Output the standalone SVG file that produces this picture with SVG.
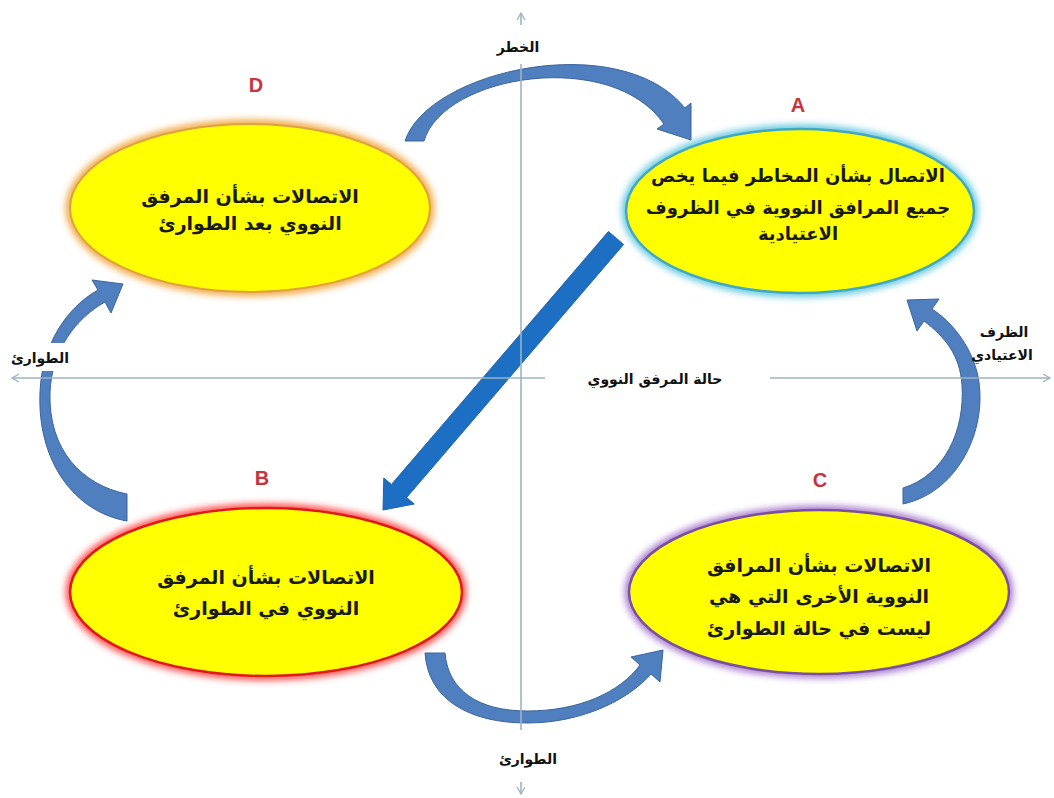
<svg xmlns="http://www.w3.org/2000/svg" width="1054" height="798" viewBox="0 0 1054 798">
  <defs>
    <filter id="soft" x="-15%" y="-25%" width="130%" height="150%">
      <feGaussianBlur stdDeviation="3.5"/>
    </filter>
    <marker id="chev" markerUnits="userSpaceOnUse" markerWidth="10" markerHeight="10" refX="7" refY="4" orient="auto">
      <path d="M0,0 L7,4 L0,8" fill="none" stroke="#9db3c2" stroke-width="1.3"/>
    </marker>
  </defs>
  <style>
    .axis{stroke:#9db3c2;stroke-width:1.6;fill:none}
    .curve{fill:#4f7fbe;stroke:#3a659c;stroke-width:1}
    .straight{fill:#1c6fc3;stroke:#1a62ad;stroke-width:1}
    .body{fill:#ffff00}
    .txt{font-family:"DejaVu Sans",sans-serif;font-size:19px;font-weight:bold;fill:#1a1a1a;text-anchor:middle}
    .lbl{font-family:"DejaVu Sans",sans-serif;font-size:14px;font-weight:bold;fill:#111;text-anchor:middle}
    .letter{font-family:"Liberation Sans",sans-serif;font-size:20px;font-weight:bold;fill:#c8343c;text-anchor:middle}
  </style>

  <rect width="1054" height="798" fill="#ffffff"/>

  <!-- nodes -->
  <g id="node-d">
    <ellipse cx="250" cy="208" rx="180" ry="84" fill="none" stroke="#f0a030" stroke-width="8" filter="url(#soft)"/>
    <ellipse class="body" cx="250" cy="208" rx="180" ry="84" stroke="#e0a040" stroke-width="2"/>
    <text class="txt" x="250" y="203">الاتصالات بشأن المرفق</text>
    <text class="txt" x="250" y="230">النووي بعد الطوارئ</text>
  </g>
  <g id="node-a">
    <ellipse cx="800" cy="211" rx="174" ry="82" fill="none" stroke="#56c3dc" stroke-width="8" filter="url(#soft)"/>
    <ellipse class="body" cx="800" cy="211" rx="174" ry="82" stroke="#3fa9c4" stroke-width="2.5"/>
    <text class="txt" x="798" y="182" style="font-size:18px">الاتصال بشأن المخاطر فيما يخص</text>
    <text class="txt" x="798" y="214" style="font-size:18px">جميع المرافق النووية في الظروف</text>
    <text class="txt" x="798" y="240" style="font-size:18px">الاعتيادية</text>
  </g>
  <g id="node-b">
    <ellipse cx="266" cy="592" rx="196" ry="84" fill="none" stroke="#ff3a3a" stroke-width="8" filter="url(#soft)"/>
    <ellipse class="body" cx="266" cy="592" rx="196" ry="84" stroke="#e01818" stroke-width="2.5"/>
    <text class="txt" x="266" y="584">الاتصالات بشأن المرفق</text>
    <text class="txt" x="266" y="615">النووي في الطوارئ</text>
  </g>
  <g id="node-c">
    <ellipse cx="819" cy="592" rx="190" ry="82" fill="none" stroke="#a070c8" stroke-width="8" filter="url(#soft)"/>
    <ellipse class="body" cx="819" cy="592" rx="190" ry="82" stroke="#7a4fa0" stroke-width="2.5"/>
    <text class="txt" x="819" y="572">الاتصالات بشأن المرافق</text>
    <text class="txt" x="819" y="603">النووية الأخرى التي هي</text>
    <text class="txt" x="819" y="635">ليست في حالة الطوارئ</text>
  </g>

  <!-- quadrant letters -->
  <g id="letters">
    <text class="letter" x="256" y="92">D</text>
    <text class="letter" x="798" y="112">A</text>
    <text class="letter" x="262" y="485">B</text>
    <text class="letter" x="820" y="487">C</text>
  </g>

  <!-- connectors -->
  <g id="connectors">
    <!-- D to A, over the top -->
    <path class="curve" d="M405,141 C428,70 620,28 685,108 L691,103 L691,140 L657,129 L664,124 C612,48 444,74 424,141 Z"/>
    <!-- C to A, right side -->
    <path class="curve" d="M903,504 C960,492 990,425 977,372 C970,345 952,322 932,309 L939,299 L907,300 L917,331 L924,321 C945,337 960,355 962,385 C965,430 945,475 903,488 Z"/>
    <!-- B to D, left side -->
    <path class="curve" d="M127,521 C75,512 37,462 40,392 C42,345 66,308 98,290 L92,280 L123,284 L111,313 L105,302 C76,318 52,350 50,392 C48,450 82,485 127,494 Z"/>
    <!-- B to C, underneath -->
    <path class="curve" d="M425,653 C428,700 470,723 527,723 C582,723 628,700 651,674 L660,682 L663,650 L631,657 L640,665 C620,692 580,711 527,711 C478,711 448,690 445,653 Z"/>
    <!-- A to B, diagonal -->
    <polygon class="straight" points="623.6,244.5 406.6,497.5 414.2,504 383,510 383.8,478 391.4,484.5 608.4,231.5"/>
  </g>

  <!-- axes -->
  <g id="axes">
    <line class="axis" x1="521" y1="64" x2="521" y2="730"/>
    <line class="axis" x1="521" y1="25" x2="521" y2="13" marker-end="url(#chev)"/>
    <line class="axis" x1="521" y1="782" x2="521" y2="794" marker-end="url(#chev)"/>
    <line class="axis" x1="545" y1="378" x2="12" y2="378" marker-end="url(#chev)"/>
    <line class="axis" x1="770" y1="378" x2="1050" y2="378" marker-end="url(#chev)"/>
  </g>

  <!-- axis labels -->
  <g id="labels">
    <text class="lbl" x="518" y="52">الخطر</text>
    <text class="lbl" x="528" y="764">الطوارئ</text>
    <rect x="6" y="343" width="66" height="28" fill="#ffffff"/>
    <text class="lbl" x="40" y="363">الطوارئ</text>
    <text class="lbl" x="655" y="384">حالة المرفق النووي</text>
    <text class="lbl" x="1004" y="337">الظرف</text>
    <text class="lbl" x="1002" y="360">الاعتيادي</text>
  </g>
</svg>
